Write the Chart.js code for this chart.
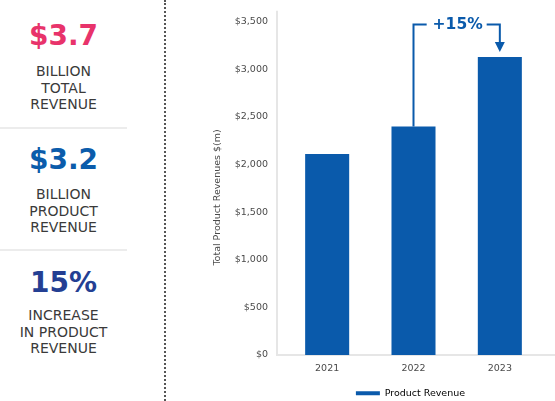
<!DOCTYPE html>
<html>
<head>
<meta charset="utf-8">
<script src="https://cdn.jsdelivr.net/npm/chart.js@4/dist/chart.umd.min.js"></script>
<style>
  html, body { margin: 0; padding: 0; background: #fff; }
  body { width: 555px; height: 401px; position: relative; overflow: hidden; font-family: "DejaVu Sans", Verdana, sans-serif; }
  .stat { position: absolute; left: 0; width: 127px; text-align: center; }
  .big { font-size: 28px; font-weight: bold; line-height: 34px; }
  .small { font-size: 14px; line-height: 16.7px; color: #3a3a3a; }
  .sep { position: absolute; left: 0; width: 127px; height: 2px; background: #ececec; }
  .dots { position: absolute; left: 164px; top: 0; height: 401px; border-left: 2px dotted #555; }
  #wrap { position: absolute; left: 195px; top: 0; width: 360px; height: 401px; }
</style>
</head>
<body>
  <div class="stat big" style="top:19px; color:#e8336b;">$3.7</div>
  <div class="stat small" style="top:63px;">BILLION<br>TOTAL<br>REVENUE</div>
  <div class="sep" style="top:127px;"></div>
  <div class="stat big" style="top:143px; color:#0b5cab;">$3.2</div>
  <div class="stat small" style="top:186px;">BILLION<br>PRODUCT<br>REVENUE</div>
  <div class="sep" style="top:249px;"></div>
  <div class="stat big" style="top:266px; color:#243f93;">15%</div>
  <div class="stat small" style="top:307px;">INCREASE<br>IN PRODUCT<br>REVENUE</div>
  <div class="dots"></div>

  <div id="wrap"><canvas id="revChart"></canvas></div>

<script>
// --- Data ---
const years = ['2021', '2022', '2023'];
const productRevenue = [2110, 2400, 3130];
const yTicks = [0, 500, 1000, 1500, 2000, 2500, 3000, 3500];
const changeLabel = '+15%';

const BLUE = '#0a5aab';
const TEXT = '#4a4a4a';

Chart.defaults.font.family = '"DejaVu Sans", Verdana, sans-serif';

// light axis frame: vertical line left of the bars and the zero baseline
const framePlugin = {
    id: 'frame',
    beforeDatasetsDraw(chart) {
        const { ctx, chartArea, scales } = chart;
        const x0 = chartArea.left - 7;
        const y0 = scales.y.getPixelForValue(0);
        ctx.save();
        ctx.strokeStyle = '#e6e6e6';
        ctx.lineWidth = 2;
        ctx.beginPath();
        ctx.moveTo(x0, chartArea.top - 11);
        ctx.lineTo(x0, y0);
        ctx.lineTo(chart.width, y0);
        ctx.stroke();
        ctx.restore();
    }
};

// centre the legend under the bars rather than the whole canvas
const legendPlacePlugin = {
    id: 'legendPlace',
    afterLayout(chart) {
        const lg = chart.legend;
        if (!lg) return;
        lg.left = chart.chartArea.left - 3;
        lg.right = chart.chartArea.right - 3;
        lg.width = lg.right - lg.left;
        lg.top += 7;
        lg.bottom += 7;
    }
};

// bracket with arrow from 2022 bar to 2023 bar
const bracketPlugin = {
    id: 'bracket',
    afterDatasetsDraw(chart) {
        const { ctx, scales } = chart;
        const xa = scales.x.getPixelForValue(1);
        const xb = scales.x.getPixelForValue(2);
        const ya = scales.y.getPixelForValue(productRevenue[1]);
        const yb = scales.y.getPixelForValue(productRevenue[2]);
        const yTop = scales.y.getPixelForValue(3470);
        const mid = (xa + xb) / 2 + 1;
        ctx.save();
        ctx.strokeStyle = BLUE;
        ctx.fillStyle = BLUE;
        ctx.lineWidth = 2;
        ctx.beginPath();
        ctx.moveTo(xa, ya);
        ctx.lineTo(xa, yTop);
        ctx.lineTo(mid - 31, yTop);
        ctx.moveTo(mid + 29, yTop);
        ctx.lineTo(xb, yTop);
        ctx.lineTo(xb, yb - 14);
        ctx.stroke();
        // arrow head
        ctx.beginPath();
        ctx.moveTo(xb - 5, yb - 15);
        ctx.lineTo(xb + 5, yb - 15);
        ctx.lineTo(xb, yb - 5);
        ctx.closePath();
        ctx.fill();
        ctx.font = 'bold 15.5px "DejaVu Sans", Verdana, sans-serif';
        ctx.textAlign = 'center';
        ctx.textBaseline = 'middle';
        ctx.fillText(changeLabel, mid, yTop);
        ctx.restore();
    }
};

const ctxRev = document.getElementById('revChart');
new Chart(ctxRev, {
    type: 'bar',
    data: {
        labels: years,
        datasets: [{
            label: 'Product Revenue',
            data: productRevenue,
            backgroundColor: BLUE,
            borderWidth: 0,
            barPercentage: 0.51,
            categoryPercentage: 1
        }]
    },
    options: {
        responsive: true,
        maintainAspectRatio: false,
        animation: false,
        layout: { padding: { top: 18, right: 12, left: 0, bottom: 0 } },
        plugins: {
            tooltip: { enabled: false },
            legend: {
                position: 'bottom',
                labels: {
                    usePointStyle: true,
                    pointStyleWidth: 24,
                    boxHeight: 9,
                    padding: 10,
                    color: TEXT,
                    font: { size: 9.5 },
                    generateLabels: () => [{
                        text: 'Product Revenue',
                        fillStyle: BLUE,
                        strokeStyle: BLUE,
                        lineWidth: 4,
                        pointStyle: 'line',
                        hidden: false,
                        datasetIndex: 0
                    }]
                }
            }
        },
        scales: {
            x: {
                afterFit(scale) { scale.height = 16.5; },
                grid: { display: false, drawTicks: false },
                border: { display: false },
                ticks: { color: TEXT, font: { size: 9.5 }, padding: 8 }
            },
            y: {
                min: 0,
                max: 3500,
                afterFit(scale) { scale.width = 89; },
                afterBuildTicks(scale) { scale.ticks = yTicks.map(v => ({ value: v })); },
                grid: { display: false, drawTicks: false },
                border: { display: false },
                ticks: {
                    color: TEXT,
                    font: { size: 9.5 },
                    padding: 16,
                    callback: v => '$' + v.toLocaleString('en-US')
                },
                title: {
                    display: true,
                    text: 'Total Product Revenues $(m)' + '\u00a0'.repeat(6),
                    color: TEXT,
                    font: { size: 9.5 },
                    padding: { top: 17, bottom: 0 }
                }
            }
        }
    },
    plugins: [framePlugin, legendPlacePlugin, bracketPlugin]
});
</script>
</body>
</html>
